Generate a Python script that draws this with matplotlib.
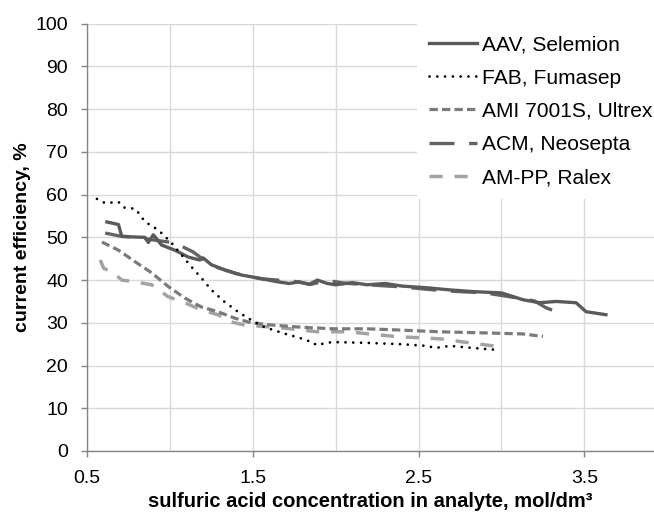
import matplotlib.pyplot as plt

plt.rcParams['font.family'] = ['Liberation Sans', 'DejaVu Sans']
plt.rcParams['lines.scale_dashes'] = False

# AAV, Selemion
aav_x = [0.62, 0.69, 0.71, 0.78, 0.85, 0.87, 0.90, 0.95, 1.03, 1.11, 1.18, 1.20, 1.25,
         1.33, 1.43, 1.53, 1.65, 1.72, 1.78, 1.84, 1.89, 1.95, 2.00, 2.10, 2.19, 2.30,
         2.40, 2.55, 2.69, 2.83, 3.00, 3.13, 3.23, 3.33, 3.45, 3.51, 3.63]
aav_y = [53.6, 53.0, 50.2, 50.1, 50.0, 48.8, 50.6, 48.2, 47.0, 45.4, 44.7, 45.2, 43.6,
         42.4, 41.2, 40.5, 39.6, 39.2, 39.6, 39.0, 40.0, 39.2, 38.9, 39.4, 38.9, 39.2,
         38.6, 38.2, 37.7, 37.3, 37.0, 35.4, 34.7, 35.0, 34.7, 32.6, 31.9]

# FAB, Fumasep
fab_x = [0.56, 0.61, 0.69, 0.72, 0.79, 0.82, 0.85, 0.90, 0.95, 1.01, 1.07, 1.13, 1.19,
         1.25, 1.33, 1.41, 1.47, 1.57, 1.68, 1.78, 1.87, 1.88, 1.98, 2.19, 2.39, 2.55,
         2.60, 2.69, 2.83, 2.96]
fab_y = [59.0, 58.0, 58.3, 57.0, 56.7, 55.3, 53.6, 52.5, 51.0, 48.7, 45.9, 43.1, 40.5,
         37.7, 34.9, 32.6, 31.1, 29.0, 27.6, 26.5, 25.3, 24.8, 25.5, 25.3, 25.0, 24.6,
         24.1, 24.6, 24.1, 23.7]

# AMI 7001S, Ultrex
ami_x = [0.59, 0.69, 0.79, 0.89, 0.99, 1.09, 1.19, 1.29, 1.39, 1.49, 1.61, 1.78, 1.98,
         2.19, 2.39, 2.63, 2.93, 3.13, 3.25]
ami_y = [48.9, 47.0, 44.3, 41.7, 38.5, 35.8, 33.7, 32.6, 31.1, 30.0, 29.5, 29.0, 28.6,
         28.6, 28.3, 27.9, 27.6, 27.4, 26.8]

# ACM, Neosepta
acm_x = [0.61, 0.70, 0.80, 0.90, 1.03, 1.14, 1.25, 1.40, 1.55, 1.75, 1.85, 1.95, 2.05,
         2.15, 2.40, 2.65, 2.90, 3.10, 3.20, 3.27, 3.38]
acm_y = [51.0, 50.3, 50.0, 49.4, 48.7, 46.6, 43.4, 41.5, 40.3, 39.7, 39.0, 39.9, 39.3,
         39.0, 38.4, 37.5, 37.0, 35.8, 35.1, 33.5, 31.9]

# AM-PP, Ralex
ampp_x = [0.58, 0.60, 0.66, 0.71, 0.79, 0.89, 0.99, 1.09, 1.19, 1.29, 1.37, 1.45, 1.61,
          1.68, 1.89, 2.08, 2.25, 2.39, 2.52, 2.64, 2.81, 2.97]
ampp_y = [44.7, 42.8, 41.7, 40.0, 39.6, 38.9, 36.1, 34.7, 33.0, 31.9, 30.2, 29.5, 29.0,
          28.8, 27.9, 27.9, 27.2, 26.7, 26.5, 26.2, 25.3, 24.5]

fig = plt.figure(figsize=(6.54, 5.16), dpi=100)
ax = fig.add_axes([0.133, 0.126, 0.867, 0.828])

ax.plot(aav_x, aav_y, color='#5a5a5a', lw=2.4, label='AAV, Selemion', zorder=5)
ax.plot(fab_x, fab_y, color='black', lw=2.0, linestyle=(0, (0.01, 5.6)),
        dash_capstyle='round', label='FAB, Fumasep', zorder=6)
ax.plot(ami_x, ami_y, color='#7a7a7a', lw=2.3, linestyle=(0, (6, 3)),
        label='AMI 7001S, Ultrex', zorder=4)
ax.plot(acm_x, acm_y, color='#636363', lw=2.4, linestyle=(0, (18, 10.5)),
        label='ACM, Neosepta', zorder=4)
ax.plot(ampp_x, ampp_y, color='#a3a3a3', lw=2.5, linestyle=(0, (9.5, 8.5)),
        label='AM-PP, Ralex', zorder=3)

ax.set_xlim(0.5, 3.92)
ax.set_ylim(0, 100)
ax.set_xticks([0.5, 1.5, 2.5, 3.5])
ax.set_xticks([1.0, 2.0, 3.0], minor=True)
ax.set_yticks(range(0, 101, 10))
ax.grid(True, which='both', color='#d9d9d9', lw=1.0)
ax.set_axisbelow(True)
ax.tick_params(which='major', length=4.5, width=1.0, direction='out', color='#868686',
               labelsize=14, pad=9, labelcolor='black')
ax.tick_params(which='minor', length=0)

for side in ['top', 'right']:
    ax.spines[side].set_visible(False)
for side in ['left', 'bottom']:
    ax.spines[side].set_color('#868686')
    ax.spines[side].set_linewidth(1.0)

ax.set_xlabel('sulfuric acid concentration in analyte, mol/dm³', fontsize=14.5,
              fontweight='bold', labelpad=4)
ax.set_ylabel('current efficiency, %', fontsize=14, fontweight='bold', labelpad=3)

leg = ax.legend(loc='upper right', bbox_to_anchor=(1.018, 1.0), fontsize=15.1,
                frameon=True, fancybox=False, framealpha=1, edgecolor='none',
                facecolor='white', handlelength=2.3, handletextpad=0.25,
                labelspacing=0.68, borderpad=0.55, borderaxespad=0.0)

fig.savefig('out.png', dpi=100)
